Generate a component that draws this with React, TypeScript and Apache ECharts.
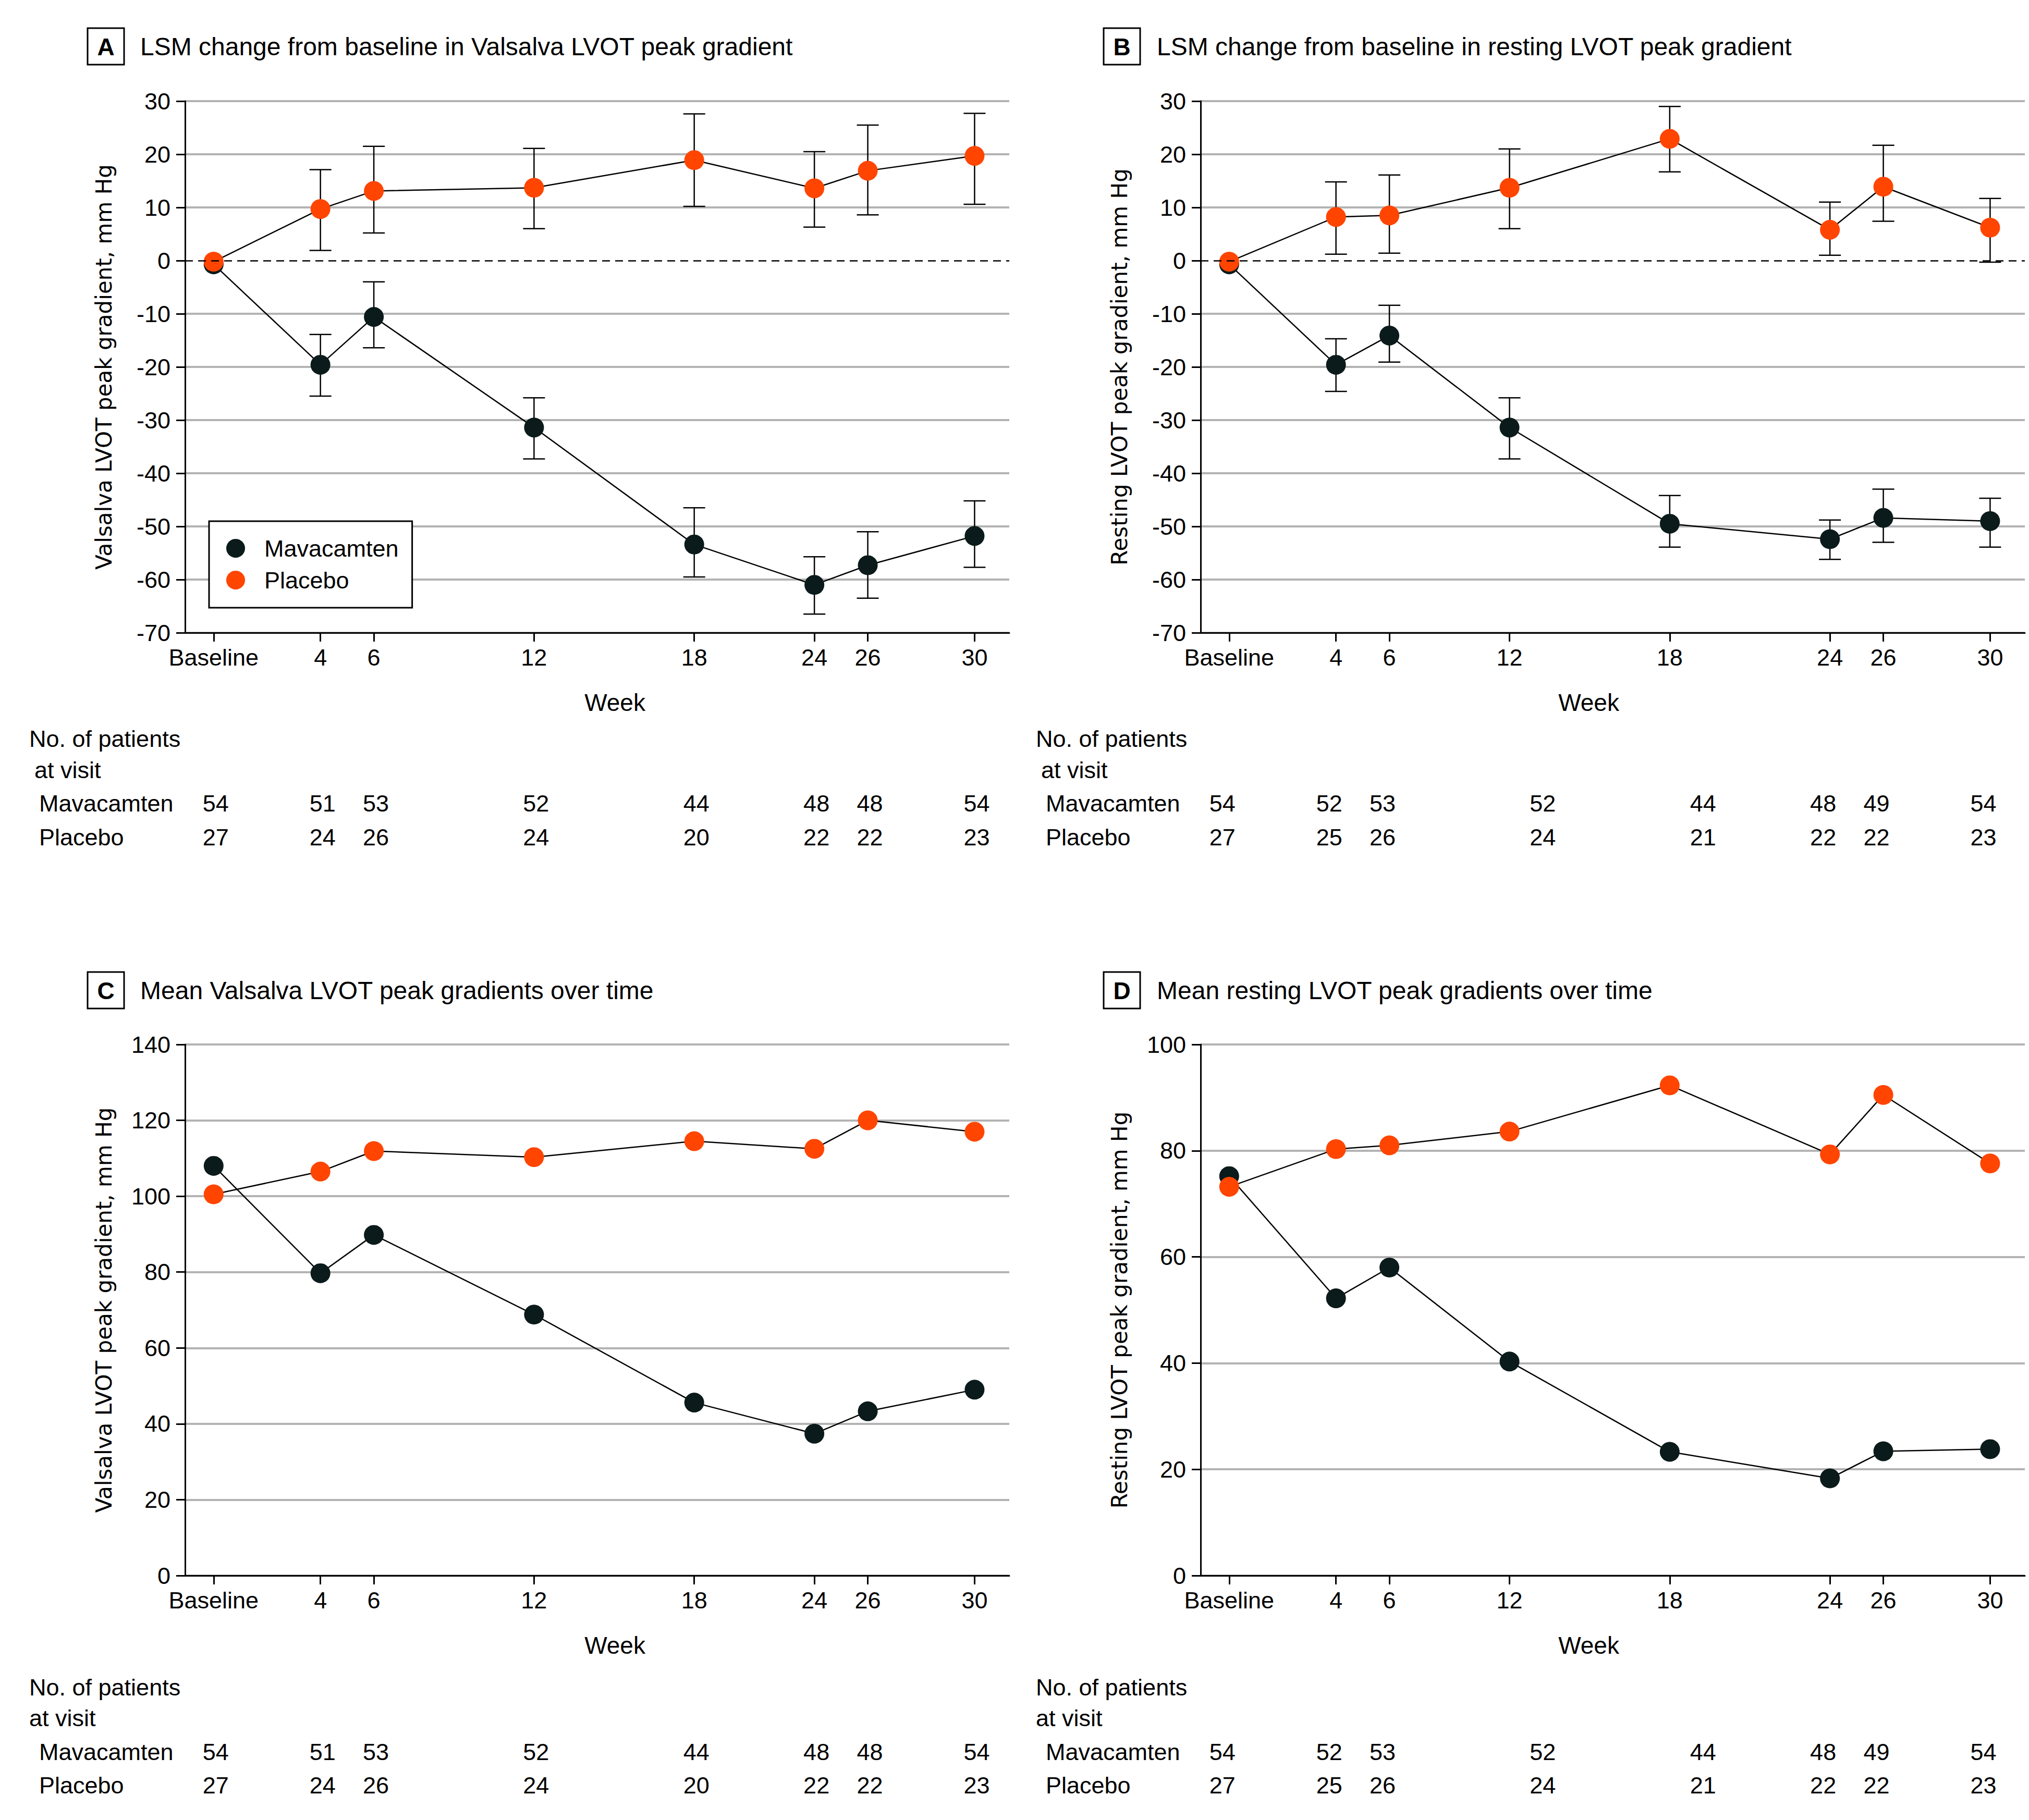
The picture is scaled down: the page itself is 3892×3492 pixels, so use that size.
import React, { useEffect, useRef } from "react";
import * as echarts from "echarts";

// ---------- data ----------
const weekLabels = ["Baseline", "4", "6", "12", "18", "24", "26", "30"];
// axis positions of the visits (the original axes are not linear in weeks)
const axisPosAC = [0, 4, 6, 12, 18, 22.5, 24.5, 28.5];
const axisPosBD = [0, 4, 6, 10.5, 16.5, 22.5, 24.5, 28.5];

// Panel A: LSM change, Valsalva
const mavaA = [-0.7, -19.6, -10.6, -31.4, -53.4, -61.0, -57.3, -51.8];
const mavaALow = [null, -25.5, -16.4, -37.3, -59.5, -66.5, -63.5, -57.7];
const mavaAHigh = [null, -13.9, -4.0, -25.8, -46.5, -55.7, -51.0, -45.2];
const placA = [-0.2, 9.7, 13.1, 13.7, 18.9, 13.6, 16.9, 19.7];
const placALow = [null, 1.9, 5.2, 6.0, 10.2, 6.3, 8.6, 10.6];
const placAHigh = [null, 17.1, 21.5, 21.1, 27.6, 20.5, 25.5, 27.7];

// Panel B: LSM change, resting
const mavaB = [-0.7, -19.6, -14.1, -31.4, -49.5, -52.4, -48.4, -49.0];
const mavaBLow = [null, -24.6, -19.1, -37.3, -53.9, -56.2, -53.0, -53.9];
const mavaBHigh = [null, -14.7, -8.4, -25.8, -44.2, -48.8, -43.0, -44.7];
const placB = [-0.2, 8.2, 8.5, 13.7, 22.9, 5.8, 13.9, 6.2];
const placBLow = [null, 1.2, 1.4, 6.0, 16.7, 1.0, 7.4, -0.3];
const placBHigh = [null, 14.8, 16.1, 21.0, 29.0, 11.0, 21.7, 11.7];

// Panel C: mean Valsalva
const mavaC = [108.0, 79.7, 89.8, 68.8, 45.6, 37.4, 43.3, 49.0];
const placC = [100.5, 106.5, 111.9, 110.3, 114.5, 112.5, 120.0, 117.0];

// Panel D: mean resting
const mavaD = [75.2, 52.2, 58.0, 40.3, 23.3, 18.3, 23.4, 23.8];
const placD = [73.2, 80.3, 81.0, 83.6, 92.3, 79.3, 90.5, 77.6];

// Patients at visit
const nMavaAC = [54, 51, 53, 52, 44, 48, 48, 54];
const nPlacAC = [27, 24, 26, 24, 20, 22, 22, 23];
const nMavaBD = [54, 52, 53, 52, 44, 48, 49, 54];
const nPlacBD = [27, 25, 26, 24, 21, 22, 22, 23];

const panelLetters = ["A", "B", "C", "D"];
const panelTitles = [
  "LSM change from baseline in Valsalva LVOT peak gradient",
  "LSM change from baseline in resting LVOT peak gradient",
  "Mean Valsalva LVOT peak gradients over time",
  "Mean resting LVOT peak gradients over time",
];
const yNames = [
  "Valsalva LVOT peak gradient, mm Hg",
  "Resting LVOT peak gradient, mm Hg",
  "Valsalva LVOT peak gradient, mm Hg",
  "Resting LVOT peak gradient, mm Hg",
];
const yRanges = [
  { min: -70, max: 30, interval: 10 },
  { min: -70, max: 30, interval: 10 },
  { min: 0, max: 140, interval: 20 },
  { min: 0, max: 100, interval: 20 },
];

// ---------- styles ----------
const FONT = '"Liberation Sans", Arial, sans-serif';
const YFONT = '"DejaVu Sans", Verdana, sans-serif';
const DARK = "#0b1a1a";
const ORANGE = "#ff4500";
const GRID = "#b3b3b3";

const gridBoxes = [
  { left: 355, top: 194, width: 1581, height: 1020 },
  { left: 2303, top: 194, width: 1581, height: 1020 },
  { left: 355, top: 2004, width: 1581, height: 1019 },
  { left: 2303, top: 2004, width: 1581, height: 1019 },
];

function pts(pos: number[], vals: number[]) {
  return pos.map((x, i) => [x, vals[i]]);
}

function errorSeries(idx: number, pos: number[], lo: (number | null)[], hi: (number | null)[], withZero: boolean) {
  const data: number[][] = [];
  pos.forEach((x, i) => {
    if (lo[i] != null && hi[i] != null) data.push([x, lo[i] as number, hi[i] as number]);
  });
  const s: any = {
    type: "custom",
    xAxisIndex: idx,
    yAxisIndex: idx,
    data,
    z: 1,
    silent: true,
    encode: { x: 0, y: [1, 2] },
    renderItem: (params: any, api: any) => {
      const x = api.value(0);
      const pLo = api.coord([x, api.value(1)]);
      const pHi = api.coord([x, api.value(2)]);
      const cw = 21;
      const style = { stroke: "#000", lineWidth: 2.5 };
      return {
        type: "group",
        children: [
          { type: "line", shape: { x1: pHi[0], y1: pHi[1], x2: pLo[0], y2: pLo[1] }, style },
          { type: "line", shape: { x1: pHi[0] - cw, y1: pHi[1], x2: pHi[0] + cw, y2: pHi[1] }, style },
          { type: "line", shape: { x1: pLo[0] - cw, y1: pLo[1], x2: pLo[0] + cw, y2: pLo[1] }, style },
        ],
      };
    },
  };
  if (withZero) {
    s.markLine = {
      silent: true,
      symbol: ["none", "none"],
      label: { show: false },
      lineStyle: { color: "#000", type: [15, 10], width: 2.5 },
      data: [{ yAxis: 0 }],
    };
  }
  return s;
}

function lineSeries(idx: number, name: string, pos: number[], vals: number[], color: string, z: number) {
  return {
    type: "line",
    name,
    xAxisIndex: idx,
    yAxisIndex: idx,
    data: pts(pos, vals),
    symbol: "circle",
    symbolSize: 38,
    itemStyle: { color },
    lineStyle: { color: "#000", width: 2.5 },
    z,
    silent: true,
  };
}

export default function App() {
  const ref = useRef<HTMLDivElement>(null);
  useEffect(() => {
    if (!ref.current) return;
    const chart = echarts.init(ref.current, null, { renderer: "svg", width: 3892, height: 3492 });

    const positions = [axisPosAC, axisPosBD, axisPosAC, axisPosBD];

    const xAxes = positions.map((pos, i) => ({
      type: "value",
      gridIndex: i,
      min: -1.07,
      max: 29.8,
      axisLine: { show: true, onZero: false, lineStyle: { color: "#000", width: 3 } },
      axisTick: { show: true, customValues: pos, length: 17, lineStyle: { color: "#000", width: 3 } },
      axisLabel: {
        customValues: pos,
        formatter: (v: number) => {
          const k = pos.indexOf(v);
          return k >= 0 ? weekLabels[k] : "";
        },
        margin: 25,
        fontSize: 45,
        fontFamily: FONT,
        color: "#000",
      },
      splitLine: { show: false },
      name: "Week",
      nameLocation: "middle",
      nameGap: 111,
      nameTextStyle: {
        fontSize: 46,
        fontFamily: FONT,
        color: "#000",
        padding: i % 2 === 0 ? [0, 0, 0, 68] : [0, 92, 0, 0],
      },
    }));

    const yAxes = yRanges.map((r, i) => {
      const ticks: number[] = [];
      for (let v = r.min; v <= r.max + 1e-9; v += r.interval) ticks.push(v);
      const colors = ticks.map((t) => (r.min < 0 && t === 0 ? "rgba(0,0,0,0)" : GRID));
      return {
        type: "value",
        gridIndex: i,
        min: r.min,
        max: r.max,
        interval: r.interval,
        axisLine: { show: true, onZero: false, lineStyle: { color: "#000", width: 3 } },
        axisTick: { show: true, length: 17, lineStyle: { color: "#000", width: 3 } },
        axisLabel: { margin: 28, fontSize: 45, fontFamily: FONT, color: "#000" },
        splitLine: { show: true, lineStyle: { color: colors, width: 4 } },
        name: yNames[i],
        nameLocation: "middle",
        nameRotate: 90,
        nameGap: 135,
        nameTextStyle: { fontSize: 42, fontFamily: YFONT, color: "#000" },
      };
    });

    const series: any[] = [
      errorSeries(0, axisPosAC, mavaALow, mavaAHigh, true),
      errorSeries(0, axisPosAC, placALow, placAHigh, false),
      lineSeries(0, "Mavacamten", axisPosAC, mavaA, DARK, 3),
      lineSeries(0, "Placebo", axisPosAC, placA, ORANGE, 4),
      errorSeries(1, axisPosBD, mavaBLow, mavaBHigh, true),
      errorSeries(1, axisPosBD, placBLow, placBHigh, false),
      lineSeries(1, "Mavacamten", axisPosBD, mavaB, DARK, 3),
      lineSeries(1, "Placebo", axisPosBD, placB, ORANGE, 4),
      lineSeries(2, "Mavacamten", axisPosAC, mavaC, DARK, 3),
      lineSeries(2, "Placebo", axisPosAC, placC, ORANGE, 4),
      lineSeries(3, "Mavacamten", axisPosBD, mavaD, DARK, 3),
      lineSeries(3, "Placebo", axisPosBD, placD, ORANGE, 4),
    ];

    const titleLeft = [269, 2219, 269, 2219];
    const titleCenterY = [89, 89, 1900, 1900];
    const titles = panelTitles.map((t, i) => ({
      text: t,
      left: titleLeft[i],
      top: titleCenterY[i] - 28,
      padding: 0,
      textStyle: { fontSize: 48, fontWeight: "normal", fontFamily: FONT, color: "#000", lineHeight: 56 },
    }));

    chart.setOption({
      animation: false,
      backgroundColor: "#fff",
      title: titles,
      grid: gridBoxes.map((g) => ({ ...g, outerBoundsMode: "none", containLabel: false })),
      xAxis: xAxes,
      yAxis: yAxes,
      legend: {
        data: ["Mavacamten", "Placebo"],
        orient: "vertical",
        left: 401,
        top: 1000,
        padding: [29, 26, 30, 33],
        itemGap: 15,
        itemWidth: 36,
        itemHeight: 36,
        icon: "circle",
        borderColor: "#000",
        borderWidth: 3,
        borderRadius: 0,
        backgroundColor: "#fff",
        selectedMode: false,
        textStyle: { fontSize: 45, fontFamily: FONT, color: "#000", lineHeight: 46, padding: [0, 0, 0, 32] },
      },
      series,
    });

    // ---- panel letter boxes and patient tables ----
    const graphics: any[] = [];
    const boxPos = [
      [168, 54],
      [2117, 54],
      [168, 1865],
      [2117, 1865],
    ];
    boxPos.forEach(([bx, by], i) => {
      graphics.push({
        type: "rect",
        shape: { x: bx, y: by, width: 70, height: 70 },
        style: { fill: "#fff", stroke: "#000", lineWidth: 3 },
      });
      graphics.push({
        type: "text",
        x: bx + 35,
        y: by + 36,
        style: {
          text: panelLetters[i],
          fontSize: 46,
          fontWeight: "bold",
          fontFamily: FONT,
          fill: "#000",
          align: "center",
          verticalAlign: "middle",
        },
      });
    });

    const tableXShift = 1931;
    const tables = [
      { dx: 0, rowsY: [1417, 1477, 1541, 1606], visitX: 66, nM: nMavaAC, nP: nPlacAC },
      { dx: tableXShift, rowsY: [1417, 1477, 1541, 1606], visitX: 66, nM: nMavaBD, nP: nPlacBD },
      { dx: 0, rowsY: [3237, 3296, 3361, 3425], visitX: 56, nM: nMavaAC, nP: nPlacAC },
      { dx: tableXShift, rowsY: [3237, 3296, 3361, 3425], visitX: 56, nM: nMavaBD, nP: nPlacBD },
    ];
    const txt = (text: string, x: number, y: number, align: string) => ({
      type: "text",
      x,
      y,
      style: { text, fontSize: 45, fontFamily: FONT, fill: "#000", align, verticalAlign: "middle" },
    });
    tables.forEach((tb) => {
      graphics.push(txt("No. of patients", 56 + tb.dx, tb.rowsY[0], "left"));
      graphics.push(txt("at visit", tb.visitX + tb.dx, tb.rowsY[1], "left"));
      graphics.push(txt("Mavacamten", 75 + tb.dx, tb.rowsY[2], "left"));
      graphics.push(txt("Placebo", 75 + tb.dx, tb.rowsY[3], "left"));
      axisPosAC.forEach((p, k) => {
        const px = chart.convertToPixel({ xAxisIndex: 0 }, p) as number;
        graphics.push(txt(String(tb.nM[k]), px + 4 + tb.dx, tb.rowsY[2], "center"));
        graphics.push(txt(String(tb.nP[k]), px + 4 + tb.dx, tb.rowsY[3], "center"));
      });
    });

    chart.setOption({ graphic: graphics });

    return () => chart.dispose();
  }, []);

  return (
    <div
      ref={ref}
      style={{ position: "fixed", left: 0, top: 0, width: 3892, height: 3492, background: "#fff" }}
    />
  );
}
